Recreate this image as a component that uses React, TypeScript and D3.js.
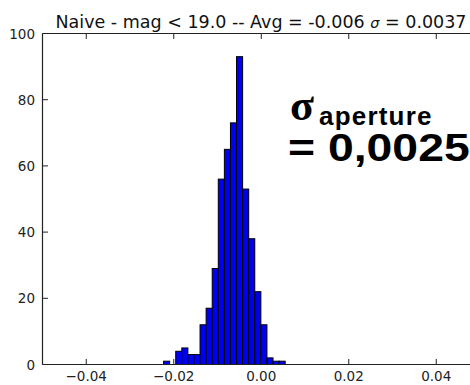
import React from "react";
import * as d3 from "d3";

// Histogram of residuals: bin edges and counts per bin
const binEdges = [
  -0.02233, -0.02094, -0.01955, -0.01816, -0.01677, -0.01538, -0.01399,
  -0.0126, -0.01121, -0.00982, -0.00843, -0.00704, -0.00565, -0.00426,
  -0.00287, -0.00148, -0.00009, 0.0013, 0.00269, 0.00408, 0.00547,
];
const counts = [1, 0, 4, 5, 3, 3, 12, 17, 29, 56, 65, 73, 93, 53, 38, 22, 12, 2, 1, 1];

const xTicks = [-0.04, -0.02, 0.0, 0.02, 0.04];
const yTicks = [0, 20, 40, 60, 80, 100];

const titleText = "Naive - mag < 19.0 -- Avg = -0.006 ";
const titleTail = " = 0.0037";

const W = 470;
const H = 385;
const plot = { left: 42.5, right: 480, top: 33.5, bottom: 364.5 };

const x = d3.scaleLinear().domain([-0.05, 0.05]).range([plot.left, plot.right]);
const y = d3.scaleLinear().domain([0, 100]).range([plot.bottom, plot.top]);

const fmtX = (v: number) => d3.format(".2f")(v).replace("-", "\u2212");

export default function App() {
  const tickLen = 5.5;
  const axisColor = "#222";
  const font = "'DejaVu Sans', sans-serif";
  const sans = "'Liberation Sans', Arial, sans-serif";
  return (
    <svg
      width={W}
      height={H}
      style={{ position: "absolute", left: 0, top: 0, background: "#fff" }}
    >
      {/* bars */}
      <g>
        {counts.map((c, i) =>
          c > 0 ? (
            <rect
              key={i}
              x={x(binEdges[i])}
              y={y(c)}
              width={x(binEdges[i + 1]) - x(binEdges[i])}
              height={y(0) - y(c)}
              fill="#0000f0"
              stroke="#000"
              strokeWidth={1}
            />
          ) : null
        )}
      </g>

      {/* frame */}
      <g stroke={axisColor} strokeWidth={1.2} fill="none">
        <line x1={plot.left} x2={plot.left} y1={plot.top} y2={plot.bottom} />
        <line x1={plot.left} x2={plot.right} y1={plot.bottom} y2={plot.bottom} />
        <line x1={plot.left} x2={plot.right} y1={plot.top} y2={plot.top} />
      </g>

      {/* ticks, pointing inward on every side */}
      <g stroke={axisColor} strokeWidth={1}>
        {xTicks.map((t) => (
          <g key={t}>
            <line x1={x(t)} x2={x(t)} y1={plot.bottom} y2={plot.bottom - tickLen} />
            <line x1={x(t)} x2={x(t)} y1={plot.top} y2={plot.top + tickLen} />
          </g>
        ))}
        {yTicks.map((t) => (
          <line key={t} x1={plot.left} x2={plot.left + tickLen} y1={y(t)} y2={y(t)} />
        ))}
      </g>

      {/* tick labels */}
      <g fontFamily={font} fontSize={13.5} fill="#222">
        {xTicks.map((t) => (
          <text key={t} x={x(t)} y={381} textAnchor="middle">
            {fmtX(t)}
          </text>
        ))}
        {yTicks.map((t) => (
          <text key={t} x={35} y={y(t)} textAnchor="end" dominantBaseline="central">
            {t}
          </text>
        ))}
      </g>

      {/* title */}
      <text x={261} y={27.5} textAnchor="middle" fontFamily={font} fontSize={17.5} fill="#111">
        {titleText}
        <tspan fontStyle="italic" fontSize={14.5}>σ</tspan>
        {titleTail}
      </text>

      {/* annotation */}
      <g fill="#000" fontWeight="bold">
        <text x={290} y={119.5} fontFamily="'Liberation Serif', serif" fontSize={44}>
          σ
        </text>
        <text x={319} y={125} fontFamily={sans} fontSize={26} letterSpacing={1.2}>
          aperture
        </text>
        <text
          transform="translate(288,161) scale(1.22,1)"
          fontFamily={sans}
          fontSize={38}
        >
          = 0,0025
        </text>
      </g>
    </svg>
  );
}
